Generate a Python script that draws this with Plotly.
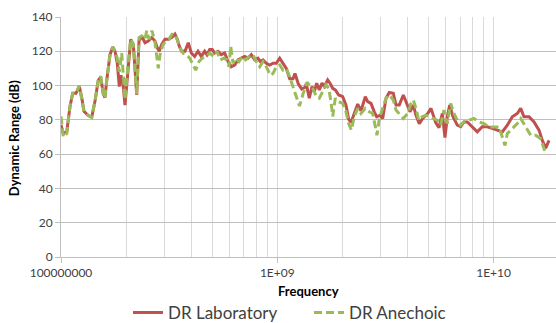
import plotly.graph_objects as go

# Frequencies in MHz, dynamic range in dB
lab_freq_mhz = [100, 102.5, 106.3, 110.1, 113.3, 117.3, 121.5, 124.7, 127.7, 133.7,
                138.7, 143.6, 148.7, 152.6, 156.9, 159.7, 162.7, 168.5, 173.4, 177.7,
                182.1, 186.0, 189.4, 194.1, 197.6, 203.4, 210.0, 215.9, 220.5, 223.9,
                229.4, 236.1, 244.5, 253.3, 262.6, 272.0, 278.7, 284.7, 292.1, 302.5,
                313.4, 324.9, 336.5, 344.9, 352.3, 361.4, 374.3, 387.7, 400.3, 415.0,
                429.9, 445.3, 461.6, 473.1, 486.9, 500.6, 513.5, 531.9, 551.0, 571.3,
                591.7, 612.8, 635.4, 658.1, 681.6, 706.7, 732.0, 758.2, 786.1, 814.2,
                834.4, 858.7, 889.5, 922.3, 955.2, 989.4, 1025.9, 1062.5, 1100.5, 1141.0,
                1181.8, 1207.3, 1250.4, 1296.5, 1342.9, 1361.6, 1405.8, 1446.8, 1482.7, 1521.0,
                1563.7, 1609.3, 1649.2, 1710.0, 1752.4, 1803.5, 1854.1, 1922.5, 2006.1, 2077.8,
                2138.4, 2191.4, 2269.7, 2353.4, 2437.5, 2551.7, 2617.8, 2711.3, 2808.2, 2880.9,
                2983.9, 3070.8, 3180.6, 3294.4, 3437.7, 3538.0, 3664.5, 3823.9, 3964.8, 4106.5,
                4253.4, 4377.4, 4533.9, 4701.0, 4958.0, 5135.3, 5398.8, 5591.8, 5791.7, 5960.6,
                6108.3, 6266.4, 6490.4, 6794.4, 7044.8, 7296.7, 7557.6, 7970.8, 8406.5, 8866.0,
                9350.7, 9861.8, 10401, 10970, 11570, 12203, 12870, 13345, 13822, 14578,
                15375, 16216, 16795, 17414, 18037]
lab_db = [77, 72, 73, 88, 95.5, 95.5, 99.5, 93, 85, 82.5,
          81.5, 91, 103, 105, 95, 93, 103, 118, 122.5, 120,
          113, 99.4, 106, 99.4, 88.6, 109, 126.9, 124, 107, 94.5,
          126, 128.8, 125, 126, 128, 126, 122, 120, 124, 127,
          127, 128, 130, 127, 123, 120, 120, 125, 119, 117,
          120, 117, 120, 118, 121, 121, 119, 120, 118, 119,
          114, 111, 112, 115, 116, 117, 116, 118, 115, 116,
          114, 115, 113, 112, 113, 113, 116, 113, 110, 104,
          104, 107, 101, 98, 99, 101, 92.6, 99.4, 96.5, 101.4,
          97.5, 101.4, 99.4, 103.3, 101.4, 98.4, 97.5, 94.5, 93.5, 88.6,
          80.4, 78.4, 84.3, 89.2, 85.3, 93.5, 90.6, 89.6, 84.7, 81.8,
          82.7, 80.8, 92.6, 96, 95.5, 88.6, 88.6, 94.5, 89.6, 84.7,
          88.6, 82.7, 77.8, 80.8, 83.7, 86.7, 78.4, 75.5, 83.7, 69.6,
          81.8, 88.6, 81.8, 76.9, 76, 78.8, 78.8, 76, 73, 76,
          76, 75, 74, 73, 76.9, 81.8, 83.7, 86.7, 81.8, 81.8,
          78.8, 74, 68, 63.5, 68]

anech_freq_mhz = [100, 102.5, 106.3, 110.1, 113.3, 117.3, 121.5, 124.7, 127.7, 133.7,
                  138.7, 143.6, 148.7, 152.6, 156.9, 159.7, 162.7, 168.5, 173.4, 177.7,
                  182.1, 186.0, 190.8, 194.1, 197.6, 203.4, 210.0, 215.9, 220.5, 223.9,
                  229.4, 236.1, 244.5, 249.0, 255.2, 263.4, 272.0, 277.9, 281.7, 286.9,
                  296.2, 305.8, 315.7, 325.9, 336.5, 343.8, 354.9, 366.4, 379.6, 393.6,
                  404.6, 419.5, 434.5, 450.0, 469.6, 486.9, 508.1, 526.3, 545.1, 565.2,
                  585.4, 598.0, 608.9, 624.0, 642.2, 665.2, 688.9, 714.3, 739.8, 772.0,
                  799.6, 829.1, 858.7, 889.5, 928.2, 955.2, 989.4, 1025.9, 1062.5, 1100.5,
                  1141.0, 1181.8, 1224.1, 1266.5, 1314.6, 1371.8, 1416.3, 1462.3, 1517.8, 1563.7,
                  1621.3, 1679.3, 1728.3, 1771.1, 1803.5, 1854.1, 1922.5, 2006.1, 2077.8, 2138.4,
                  2198.4, 2269.7, 2353.4, 2437.5, 2551.7, 2662.7, 2760.8, 2838.3, 2890.1, 2961.7,
                  3070.8, 3180.6, 3294.4, 3437.7, 3538.0, 3691.9, 3823.9, 4007.2, 4150.5, 4253.4,
                  4377.4, 4505.0, 4666.1, 4869.1, 5080.9, 5245.8, 5491.5, 5693.9, 5897.5, 6108.3,
                  6333.4, 6559.9, 6794.4, 7044.8, 7296.7, 7695.6, 8116.3, 8560.0, 9027.9, 9521.4,
                  10042, 10591, 10970, 11290, 11570, 12203, 12870, 13345, 14075, 14844,
                  15656, 16512, 17102, 17526]
anech_db = [82, 70, 72, 88, 95.5, 95.5, 100, 93, 85, 82.5,
            81.5, 91, 103, 105.5, 95, 92.5, 103, 118, 122.5, 120,
            116, 108, 119, 106, 92, 110, 127, 124, 108, 95,
            128, 129, 127, 132, 127, 132, 125, 115, 110, 118,
            124, 126, 127, 130, 130, 127, 122, 119, 118, 116,
            113, 109, 114, 116, 117, 119, 117, 120, 115, 116,
            115, 111, 123, 113, 116, 114, 117, 115, 117, 118,
            114, 111, 114, 111, 106, 107, 111, 112, 109, 110,
            105, 99, 93.5, 88, 95, 102, 100, 98, 93.5, 92.6,
            96.5, 100.4, 98.4, 90.6, 82, 92.6, 90.6, 89.6, 84.7, 77.8,
            74, 81.8, 86.7, 83.7, 86.7, 84.7, 83.7, 76, 71, 80.8,
            86.7, 92.6, 94.5, 91.6, 85.7, 82.7, 80.8, 83.7, 89.6, 91.6,
            86.7, 79.8, 81.8, 82.7, 82, 80.8, 79.8, 76.9, 85.7, 77.8,
            89.6, 83.7, 79.8, 76.9, 78.8, 79.8, 80.8, 78.8, 77.8, 75.9,
            75.9, 75.9, 70, 65, 72, 75, 77.8, 80.8, 75.9, 71,
            71, 69, 63.1, 59.8]

x_tick_vals = [1e8, 1e9, 1e10]
x_tick_text = ["100000000", "1E+09", "1E+10"]
x_minor_vals = [m * 10 ** e for e in (8, 9, 10) for m in range(2, 10)]
y_tick_vals = [0, 20, 40, 60, 80, 100, 120, 140]

FONT = "Lato, 'Open Sans', sans-serif"

fig = go.Figure()
fig.add_trace(go.Scatter(
    x=[f * 1e6 for f in lab_freq_mhz], y=lab_db, mode="lines",
    name="DR Laboratory", line=dict(color="#C0504D", width=3)))
fig.add_trace(go.Scatter(
    x=[f * 1e6 for f in anech_freq_mhz], y=anech_db, mode="lines",
    name="DR Anechoic", line=dict(color="#9BBB59", width=3, dash="8px,4px")))

fig.update_layout(
    width=556, height=323,
    margin=dict(l=61, r=0, t=17, b=66, autoexpand=False),
    paper_bgcolor="white", plot_bgcolor="white",
    font=dict(family=FONT, size=12, color="#404040"),
    showlegend=True,
    legend=dict(orientation="h", x=0.501, xanchor="center", y=-0.233, yanchor="middle",
                font=dict(size=17, color="#404040"), itemwidth=30,
                entrywidth=136, entrywidthmode="pixels",
                bgcolor="rgba(0,0,0,0)"),
    xaxis=dict(type="log", range=[8, 10.2885],
               tickmode="array", tickvals=x_tick_vals, ticktext=x_tick_text,
               ticks="outside", ticklen=5, tickcolor="#bfbfbf",
               showline=True, linecolor="#bfbfbf", linewidth=1,
               showgrid=True, gridcolor="#d9d9d9", gridwidth=1, zeroline=False,
               minor=dict(tickmode="array", tickvals=x_minor_vals, showgrid=True,
                          gridcolor="#d9d9d9", gridwidth=1, ticks=""),
               tickfont=dict(size=12)),
    yaxis=dict(range=[0, 140], tickmode="array", tickvals=y_tick_vals,
               ticks="outside", ticklen=5, tickcolor="#bfbfbf",
               showline=True, linecolor="#bfbfbf", linewidth=1,
               showgrid=True, gridcolor="#bfbfbf", gridwidth=1, zeroline=False,
               tickfont=dict(size=12)),
    annotations=[
        dict(text="<b>Frequency</b>", xref="paper", yref="paper", x=0.5, y=-0.142,
             xanchor="center", yanchor="middle", showarrow=False,
             font=dict(size=13, color="#000000")),
        dict(text="<b>Dynamic Range (dB)</b>", xref="paper", yref="paper", x=-0.095, y=0.495,
             xanchor="center", yanchor="middle", showarrow=False, textangle=-90,
             font=dict(size=13, color="#000000")),
    ],
)

fig.write_html("out.html")
